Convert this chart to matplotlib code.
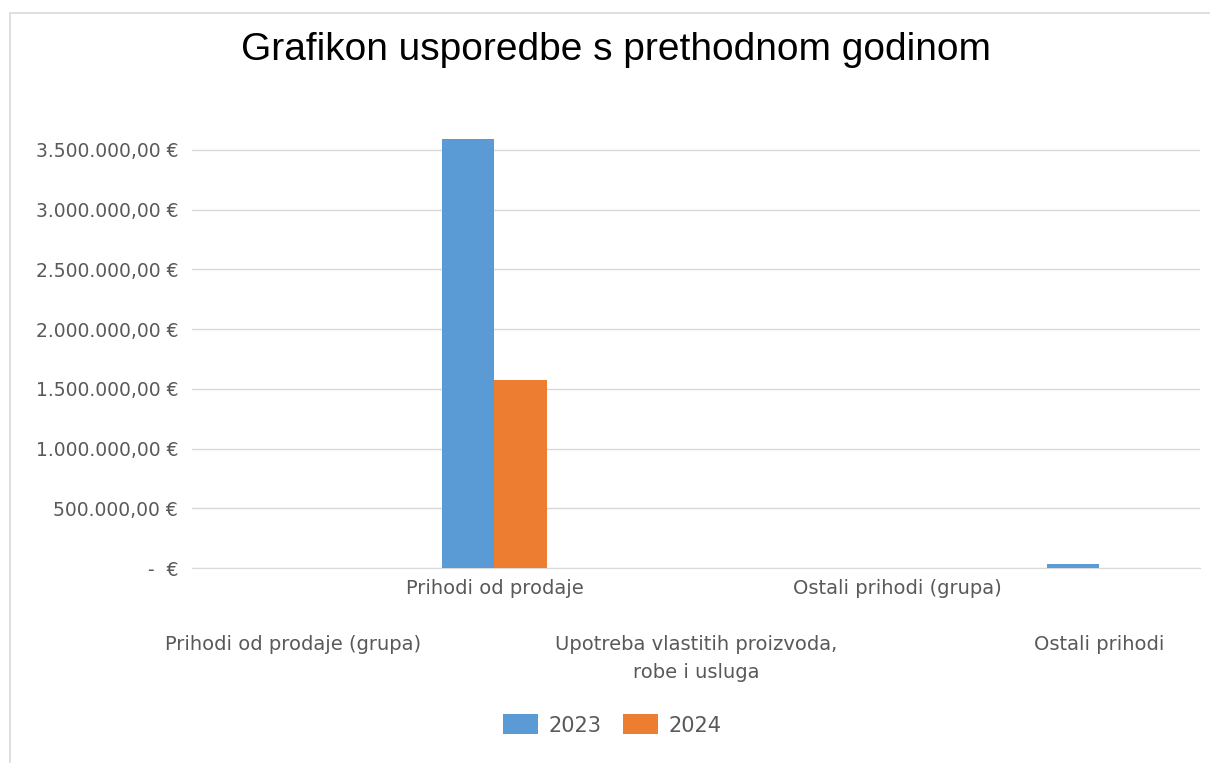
import matplotlib
matplotlib.use('Agg')
import matplotlib.pyplot as plt
import numpy as np
from matplotlib.patches import Rectangle, Patch
from matplotlib.ticker import FuncFormatter

categories = ['Prihodi od prodaje (grupa)', 'Prihodi od prodaje',
              'Upotreba vlastitih proizvoda,\nrobe i usluga',
              'Ostali prihodi (grupa)', 'Ostali prihodi']
values_2023 = [0, 3590000, 0, 0, 31000]
values_2024 = [0, 1575000, 0, 0, 0]
series_names = ['2023', '2024']
yticks = [0, 500000, 1000000, 1500000, 2000000, 2500000, 3000000, 3500000]

blue = '#5B9BD5'
orange = '#ED7D31'
grid_col = '#D9D9D9'
text_col = '#595959'


def euro(v, pos=None):
    if v == 0:
        return '-  €'
    s = f'{v:,.2f}'.replace(',', 'X').replace('.', ',').replace('X', '.')
    return s + ' €'


fig = plt.figure(figsize=(12.1, 7.63), dpi=100)
fig.patches.append(Rectangle((10 / 1210, -0.05), 1.1, 1 - 13 / 763 + 0.05,
                             transform=fig.transFigure, fill=False,
                             edgecolor=grid_col, lw=1.2))

ax = fig.add_axes([192 / 1210, 1 - 568 / 763, (1200 - 192) / 1210, (568 - 130) / 763])
x = np.arange(len(categories))
w = 0.26
ax.bar(x - w / 2, values_2023, w, color=blue, label=series_names[0], zorder=3)
ax.bar(x + w / 2, values_2024, w, color=orange, label=series_names[1], zorder=3)

ax.set_xlim(-0.5, len(categories) - 0.5)
ax.set_ylim(0, 3667000)
ax.set_yticks(yticks)
ax.yaxis.set_major_formatter(FuncFormatter(euro))
ax.grid(axis='y', color=grid_col, lw=1, zorder=0)
for s in ['top', 'right', 'left']:
    ax.spines[s].set_visible(False)
ax.spines['bottom'].set_color(grid_col)
ax.tick_params(axis='y', length=0, pad=10, labelsize=13.5, labelcolor=text_col)
ax.tick_params(axis='x', length=0, pad=8, labelsize=14, labelcolor=text_col)

ax.set_xticks(x)
ax.set_xticklabels(categories, linespacing=1.6)
for i, lab in enumerate(ax.get_xticklabels()):
    if i % 2 == 0:
        lab.set_y(-0.128)

fig.text(0.509, 1 - 50 / 763, 'Grafikon usporedbe s prethodnom godinom',
         ha='center', va='center', fontsize=28, family='Liberation Sans',
         color='black')

handles = [Patch(facecolor=blue, label=series_names[0]),
           Patch(facecolor=orange, label=series_names[1])]
fig.legend(handles=handles, loc='center', bbox_to_anchor=(0.506, 1 - 725 / 763),
           ncol=2, frameon=False, fontsize=15, labelcolor=text_col,
           handlelength=1.7, handleheight=1.1, handletextpad=0.5, columnspacing=1.0)

fig.savefig('out.png', dpi=100)
